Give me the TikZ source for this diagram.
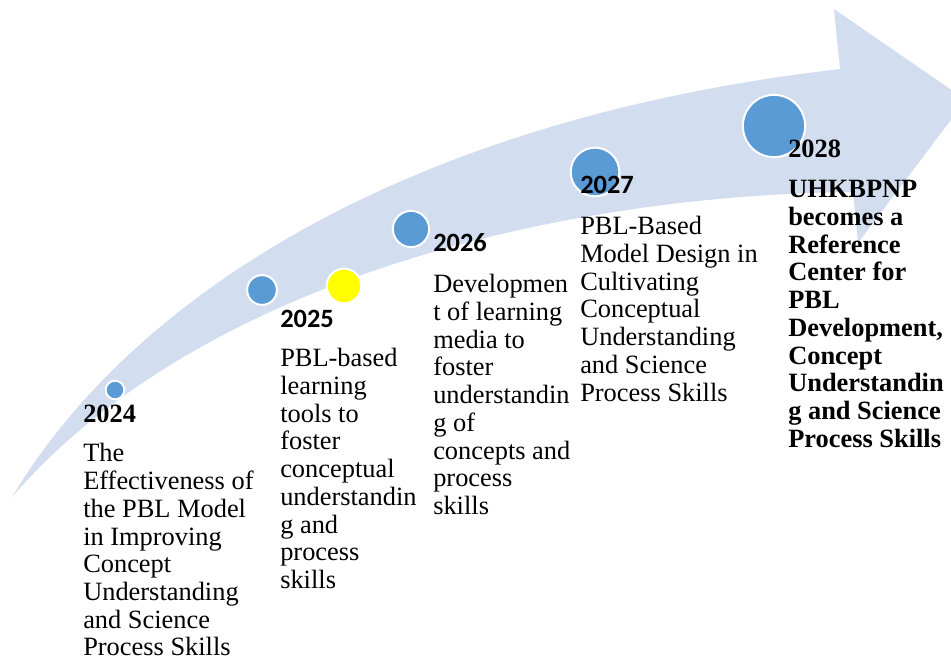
\documentclass[tikz,border=0pt]{standalone}
\usepackage{fontspec}
\setmainfont{Liberation Serif}
\newfontfamily\yearsans{Carlito}
\usepackage{tikz}

\definecolor{band}{HTML}{D2DEEF}
\definecolor{dotblue}{HTML}{5B9BD5}
\definecolor{dotyellow}{HTML}{FFFF00}

\begin{document}
\begin{tikzpicture}[x=0.75pt,y=-0.75pt,
  dot/.style={circle,draw=white,line width=1.5pt,fill=dotblue,inner sep=0pt},
  txt/.style={anchor=base west,inner sep=0pt,align=left,font=\fontsize{19.8}{20.8}\selectfont},
  yrs/.style={txt,font=\fontsize{19.8}{20.8}\selectfont\yearsans\bfseries},
  yrb/.style={txt,font=\fontsize{19.8}{20.8}\selectfont\bfseries}]
\useasboundingbox (0,0) rectangle (951,659);
% the big curved arrow behind everything
\begin{scope}
\clip (0,0) rectangle (951,659);
\fill[band] (12,497) .. controls (130,300) and (400,120) .. (840,69) -- (834,9) -- (966,100)
  -- (858,243) -- (853,192) .. controls (560,195) and (200,280) .. (12,497) -- cycle;
\end{scope}
% milestones
\node[dot,minimum size=14pt] (d24) at (115,390) {};
\node[dot,minimum size=22.3pt] (d25) at (262,290) {};
\node[dot,fill=dotyellow,minimum size=26pt] (d25y) at (344,286) {};
\node[dot,minimum size=27.2pt] (d26) at (411,229) {};
\node[dot,minimum size=36.5pt] (d27) at (595,172) {};
\node[dot,minimum size=46.7pt] (d28) at (774,126) {};
% years and descriptions (base anchor sits on the last line)
\node[yrb] (y24) at (83,423) {2024};
\node[txt] (t24) at (83,656) {The\\Effectiveness of\\the PBL Model\\in Improving\\Concept\\Understanding\\and Science\\Process Skills};
\node[yrs] (y25) at (280,328) {2025};
\node[txt] (t25) at (280,588.6) {PBL-based\\learning\\tools to\\foster\\conceptual\\understandin\\g and\\process\\skills};
\node[yrs] (y26) at (433,252) {2026};
\node[txt] (t26) at (433,514.6) {Developmen\\t of learning\\media to\\foster\\understandin\\g of\\concepts and\\process\\skills};
\node[yrs] (y27) at (580,194) {2027};
\node[txt] (t27) at (580,401.2) {PBL-Based\\Model Design in\\Cultivating\\Conceptual\\Understanding\\and Science\\Process Skills};
\node[yrb] (y28) at (788,158) {2028};
\node[yrb] (t28) at (788,447.3) {UHKBPNP\\becomes a\\Reference\\Center for\\PBL\\Development,\\Concept\\Understandin\\g and Science\\Process Skills};
\end{tikzpicture}
\end{document}
